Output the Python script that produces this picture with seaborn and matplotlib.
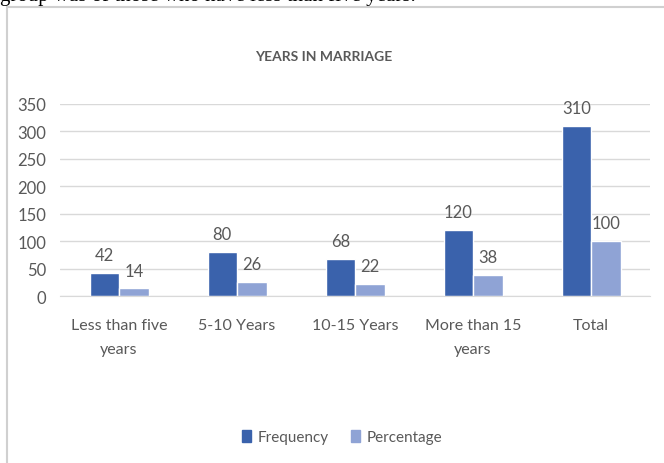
import pandas as pd
import seaborn as sns
import matplotlib.pyplot as plt
from matplotlib.patches import Rectangle

# Data
categories = ['Less than five\nyears', '5-10 Years', '10-15 Years', 'More than 15\nyears', 'Total']
frequency = [42, 80, 68, 120, 310]
percentage = [14, 26, 22, 38, 100]
series = ['Frequency', 'Percentage']
colors = ['#3A62AC', '#8FA3D5']

df = pd.DataFrame({
    'category': categories * 2,
    'value': frequency + percentage,
    'series': [series[0]] * len(categories) + [series[1]] * len(categories),
})

sns.set_style('white')
plt.rcParams['font.family'] = ['Lato', 'DejaVu Sans']
text_col = '#595959'

fig = plt.figure(figsize=(6.64, 4.64), dpi=100)
ax = fig.add_axes([60 / 664, 1 - 297 / 464, 590 / 664, 192 / 464])

sns.barplot(data=df, x='category', y='value', hue='series', palette=colors,
            width=0.5, ax=ax, saturation=1, legend=False)

for cont in ax.containers:
    ax.bar_label(cont, padding=7, fontsize=12, color=text_col)

ax.set_xlim(-0.5, 4.5)
ax.set_ylim(0, 350)
ax.set_yticks(range(0, 351, 50))
ax.yaxis.grid(True, color='#D9D9D9', linewidth=1)
ax.set_axisbelow(True)
ax.set_xlabel('')
ax.set_ylabel('')
ax.tick_params(axis='both', length=0, labelsize=12, labelcolor=text_col)
ax.tick_params(axis='x', pad=16, labelsize=11.5)
ax.tick_params(axis='y', pad=10)
for lbl in ax.get_xticklabels():
    lbl.set_linespacing(1.85)
    lbl.set_va('top')
for s in ['left', 'right', 'top']:
    ax.spines[s].set_visible(False)
ax.spines['bottom'].set_color('#D9D9D9')

fig.text(324 / 664, 1 - 57 / 464, 'YEARS IN MARRIAGE', ha='center', va='center',
         fontsize=10, fontweight='bold', color=text_col)

# legend
handles = [Rectangle((0, 0), 1, 1, color=c) for c in colors]
fig.legend(handles, series, loc='center', bbox_to_anchor=(342 / 664, 1 - 438 / 464),
           ncol=2, frameon=False, fontsize=11, handlelength=0.6, handleheight=0.8,
           handletextpad=0.4, columnspacing=1.5, labelcolor=text_col)

# chart frame and clipped document text above it
fig.patches.append(Rectangle((7 / 664, -0.1), 1.2, 1 - 8 / 464 + 0.1,
                             transform=fig.transFigure, fill=False,
                             edgecolor='#D0D0D0', linewidth=1.5))
fig.text(0.0, 1 - 1.5 / 464, 'group was of those who have less than five years.',
         ha='left', va='baseline', fontsize=15, family='Liberation Serif', color='black')

fig.savefig('out.png', dpi=100)
